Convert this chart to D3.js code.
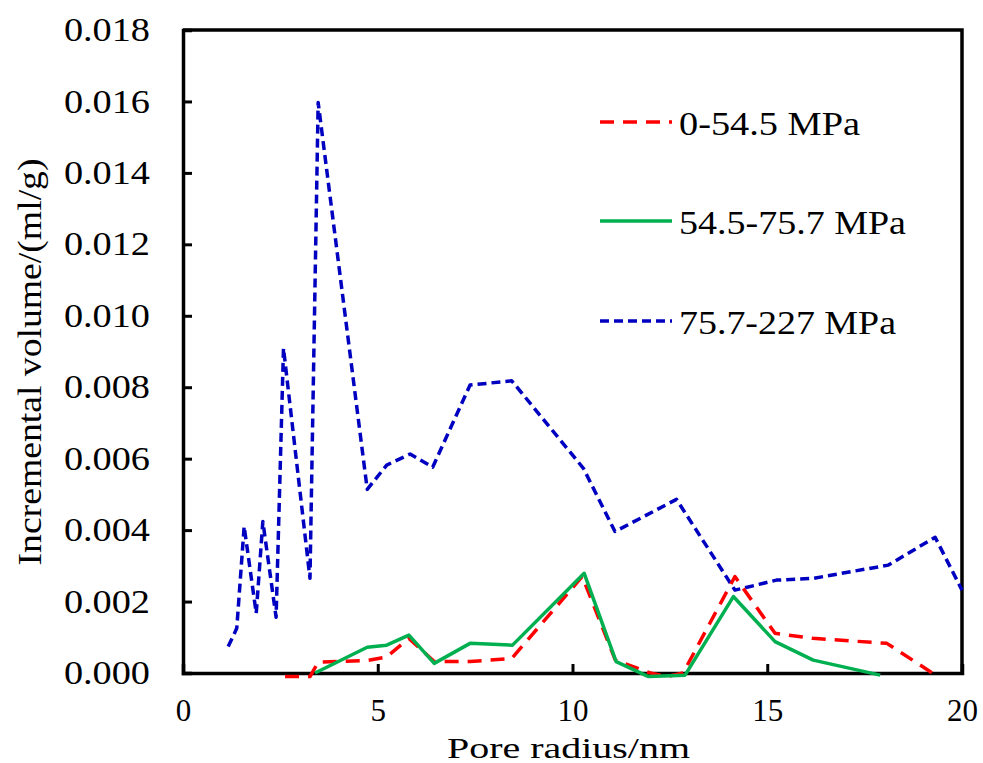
<!DOCTYPE html>
<html>
<head>
<meta charset="utf-8">
<script src="https://cdn.jsdelivr.net/npm/d3@7"></script>
<style>
  body { margin: 0; background: #fff; }
  text { font-family: "Liberation Serif", "Times New Roman", serif; fill: #000; }
</style>
</head>
<body>
<svg width="983" height="763"></svg>
<script>
// pore radius (nm) and incremental volume (ml/g) per pressure range
var xBlue = [1.16, 1.38, 1.57, 1.88, 2.05, 2.39, 2.58, 3.26, 3.47, 4.73, 5.23, 5.83, 6.41, 7.37, 8.44, 10.28, 11.09, 12.67, 14.17, 15.24, 16.18, 18.11, 19.31, 20.0];
var yBlue = [0.00074, 0.00125, 0.0041, 0.00167, 0.00424, 0.00156, 0.00909, 0.00265, 0.01597, 0.00514, 0.00582, 0.00613, 0.00576, 0.00806, 0.00818, 0.00573, 0.00396, 0.00486, 0.00232, 0.0026, 0.00265, 0.00302, 0.0038, 0.00232];

var xRed = [2.62, 3.26, 3.47, 4.73, 5.23, 5.8, 6.45, 7.37, 8.44, 10.25, 11.1, 12.0, 12.42, 12.84, 14.17, 15.2, 16.17, 18.07, 19.31];
var yRed = [-0.0001, -0.0001, 0.0003, 0.00035, 0.00045, 0.00097, 0.00032, 0.00032, 0.00041, 0.0027, 0.00036, 0.0, -0.0001, 0.0, 0.0027, 0.00111, 0.00097, 0.00083, -0.00005];

var xGreen = [3.39, 4.73, 5.23, 5.8, 6.45, 7.37, 8.46, 10.3, 11.12, 11.95, 12.89, 14.13, 15.2, 16.18, 17.9];
var yGreen = [0.0, 0.00072, 0.00078, 0.00106, 0.00027, 0.00083, 0.00078, 0.00279, 0.00032, -0.0001, -0.00006, 0.00214, 0.00088, 0.00036, -0.00006];

var legendLabels = ["0-54.5 MPa", "54.5-75.7 MPa", "75.7-227 MPa"];
var xTicks = [0, 5, 10, 15, 20];
var yTicks = [0, 0.002, 0.004, 0.006, 0.008, 0.010, 0.012, 0.014, 0.016, 0.018];

var svg = d3.select("svg"),
    margin = {top: 30, left: 183, right: 21, bottom: 90},
    width = +svg.attr("width") - margin.left - margin.right,
    height = +svg.attr("height") - margin.top - margin.bottom,
    g = svg.append("g").attr("transform", "translate(" + margin.left + "," + margin.top + ")");

var x = d3.scaleLinear().domain([0, 20]).range([0, width]);
var y = d3.scaleLinear().domain([0, 0.018]).range([height, 0]);

// stretch text sideways like the original picture
function stretch(sel, k) {
  sel.each(function() {
    var w = this.getComputedTextLength();
    d3.select(this).attr("textLength", w * k).attr("lengthAdjust", "spacingAndGlyphs");
  });
}

// frame (top and right)
g.append("path")
    .attr("d", "M0,0H" + width + "V" + height)
    .attr("fill", "none")
    .attr("stroke", "#000")
    .attr("stroke-width", 3.5);

// x axis, ticks inside
var xAxis = g.append("g")
    .attr("transform", "translate(0," + height + ")")
    .call(d3.axisBottom(x).tickValues(xTicks).tickSize(-9).tickPadding(26).tickFormat(d3.format("d")));
xAxis.selectAll("text").style("font-size", "31px");

// y axis
var yAxis = g.append("g")
    .call(d3.axisLeft(y).tickValues(yTicks).tickSize(-9).tickPadding(33).tickFormat(d3.format(".3f")));
yAxis.selectAll("text").style("font-size", "33px").call(stretch, 1.16);

g.selectAll(".domain").attr("stroke-width", 3.5);
g.selectAll(".tick line").attr("stroke-width", 3);

// titles
svg.append("text")
    .attr("x", margin.left + x(10) - 4)
    .attr("y", 758)
    .attr("text-anchor", "middle")
    .style("font-size", "30px")
    .text("Pore radius/nm")
    .call(function(s) { s.attr("textLength", 243).attr("lengthAdjust", "spacingAndGlyphs"); });

svg.append("text")
    .attr("transform", "translate(41," + 362 + ") rotate(-90)")
    .attr("text-anchor", "middle")
    .style("font-size", "33px")
    .text("Incremental volume/(ml/g)")
    .call(function(s) { s.attr("textLength", 407).attr("lengthAdjust", "spacingAndGlyphs"); });

function toPts(xs, ys) {
  return xs.map(function(d, i) { return [d, ys[i]]; });
}

var line = d3.line()
    .x(function(d) { return x(d[0]); })
    .y(function(d) { return y(d[1]); });

var series = [
  {pts: toPts(xBlue, yBlue), color: "#0000c0", dash: "9,5", w: 3.5},
  {pts: toPts(xRed, yRed), color: "#ff0000", dash: "14,9", w: 3.5},
  {pts: toPts(xGreen, yGreen), color: "#00b050", dash: null, w: 3.5}
];

series.forEach(function(s) {
  g.append("path")
      .datum(s.pts)
      .attr("fill", "none")
      .attr("stroke", s.color)
      .attr("stroke-width", s.w)
      .attr("stroke-dasharray", s.dash)
      .attr("stroke-linejoin", "round")
      .attr("d", line);
});

// legend
var legend = [
  {label: legendLabels[0], color: "#ff0000", dash: "14,9", y: 122, w: 181},
  {label: legendLabels[1], color: "#00b050", dash: null, y: 221, w: 227},
  {label: legendLabels[2], color: "#0000c0", dash: "9,5", y: 321, w: 217}
];
legend.forEach(function(l) {
  svg.append("line")
      .attr("x1", 600).attr("x2", 672)
      .attr("y1", l.y).attr("y2", l.y)
      .attr("stroke", l.color)
      .attr("stroke-width", 3.5)
      .attr("stroke-dasharray", l.dash);
  svg.append("text")
      .attr("x", 679)
      .attr("y", l.y + 13)
      .style("font-size", "33px")
      .attr("textLength", l.w)
      .attr("lengthAdjust", "spacingAndGlyphs")
      .text(l.label);
});
</script>
</body>
</html>
